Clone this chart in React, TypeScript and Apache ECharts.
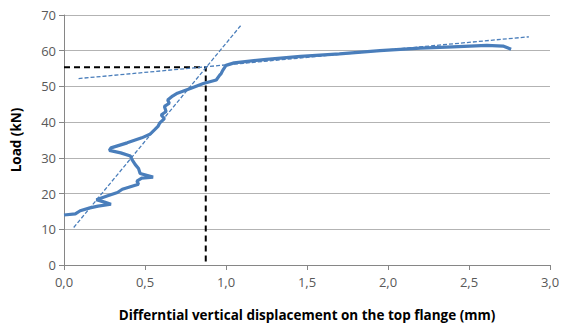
import React, { useEffect, useRef } from "react";
import * as echarts from "echarts";

const loadCurveX = [0.0, 0.07, 0.10, 0.16, 0.21, 0.29, 0.25, 0.20, 0.27, 0.33, 0.36, 0.41, 0.46, 0.45, 0.48, 0.55, 0.47, 0.46, 0.44, 0.42, 0.41, 0.35, 0.28, 0.29, 0.39, 0.48, 0.53, 0.56, 0.58, 0.59, 0.62, 0.60, 0.63, 0.62, 0.65, 0.64, 0.67, 0.70, 0.78, 0.86, 0.94, 0.96, 0.97, 0.98, 1.0, 1.05, 1.25, 1.46, 1.70, 1.95, 2.20, 2.40, 2.61, 2.71, 2.76];
const loadCurveY = [14.0, 14.3, 15.2, 16.0, 16.5, 17.0, 17.6, 18.3, 19.4, 20.3, 21.2, 21.9, 22.6, 23.5, 24.3, 24.6, 25.6, 27.0, 28.1, 29.5, 30.5, 31.4, 32.1, 32.8, 34.2, 35.6, 36.6, 37.9, 38.8, 39.7, 41.0, 42.0, 43.0, 44.4, 45.3, 46.2, 47.3, 48.1, 49.4, 50.8, 51.8, 53.1, 53.6, 54.5, 55.9, 56.6, 57.6, 58.4, 59.1, 60.0, 60.7, 61.1, 61.5, 61.3, 60.4];

const steepTrendX = [0.06, 1.09];
const steepTrendY = [10.5, 67.0];
const flatTrendX = [0.09, 2.87];
const flatTrendY = [52.2, 63.9];

const yieldX = [0, 0.875, 0.875];
const yieldY = [55.4, 55.4, 0];

const xTicks = [0, 0.5, 1.0, 1.5, 2.0, 2.5, 3.0];
const yTicks = [0, 10, 20, 30, 40, 50, 60, 70];

const zip = (xs: number[], ys: number[]) => xs.map((x, i) => [x, ys[i]]);

export default function App() {
  const ref = useRef<HTMLDivElement>(null);
  useEffect(() => {
    if (!ref.current) return;
    const chart = echarts.init(ref.current, undefined, { renderer: "svg" });
    const font = "'Open Sans', 'Liberation Sans', sans-serif";
    chart.setOption({
      animation: false,
      grid: { left: 64, right: 16, top: 15, bottom: 59 },
      xAxis: {
        type: "value",
        min: xTicks[0],
        max: xTicks[xTicks.length - 1],
        interval: 0.5,
        name: "Differntial vertical displacement on the top flange (mm)",
        nameLocation: "middle",
        nameGap: 43,
        nameTextStyle: { fontFamily: font, fontWeight: "bold", fontSize: 13.5, color: "#000" },
        axisLine: { show: true, lineStyle: { color: "#868686", width: 1 } },
        axisTick: { show: true, length: 5, lineStyle: { color: "#868686" } },
        axisLabel: {
          fontFamily: font,
          fontSize: 13,
          color: "#595959",
          margin: 10,
          formatter: (v: number) => v.toFixed(1).replace(".", ","),
        },
        splitLine: { show: false },
      },
      yAxis: {
        type: "value",
        min: yTicks[0],
        max: yTicks[yTicks.length - 1],
        interval: 10,
        name: "Load (kN)",
        nameLocation: "middle",
        nameGap: 41,
        nameTextStyle: { fontFamily: font, fontWeight: "bold", fontSize: 13.5, color: "#000" },
        axisLine: { show: true, lineStyle: { color: "#868686", width: 1 } },
        axisTick: { show: true, length: 5, lineStyle: { color: "#868686" } },
        axisLabel: { fontFamily: font, fontSize: 13, color: "#595959", margin: 8 },
        splitLine: { show: true, lineStyle: { color: "#B3B3B3", width: 1 } },
      },
      series: [
        {
          type: "line",
          data: zip(yieldX, yieldY),
          showSymbol: false,
          symbol: "none",
          lineStyle: { color: "#000", width: 2, type: [6, 4] },
          z: 3,
        },
        {
          type: "line",
          data: zip(loadCurveX, loadCurveY),
          showSymbol: false,
          symbol: "none",
          lineStyle: { color: "#4A7EBB", width: 3.2 },
          z: 4,
        },
        {
          type: "line",
          data: zip(steepTrendX, steepTrendY),
          showSymbol: false,
          symbol: "none",
          lineStyle: { color: "#4A7EBB", width: 1.3, type: [4, 2] },
          z: 5,
        },
        {
          type: "line",
          data: zip(flatTrendX, flatTrendY),
          showSymbol: false,
          symbol: "none",
          lineStyle: { color: "#4A7EBB", width: 1.3, type: [4, 2] },
          z: 5,
        },
      ],
    });
    return () => chart.dispose();
  }, []);
  return <div ref={ref} style={{ width: 566, height: 327, position: "absolute", left: 0, top: 0 }} />;
}
